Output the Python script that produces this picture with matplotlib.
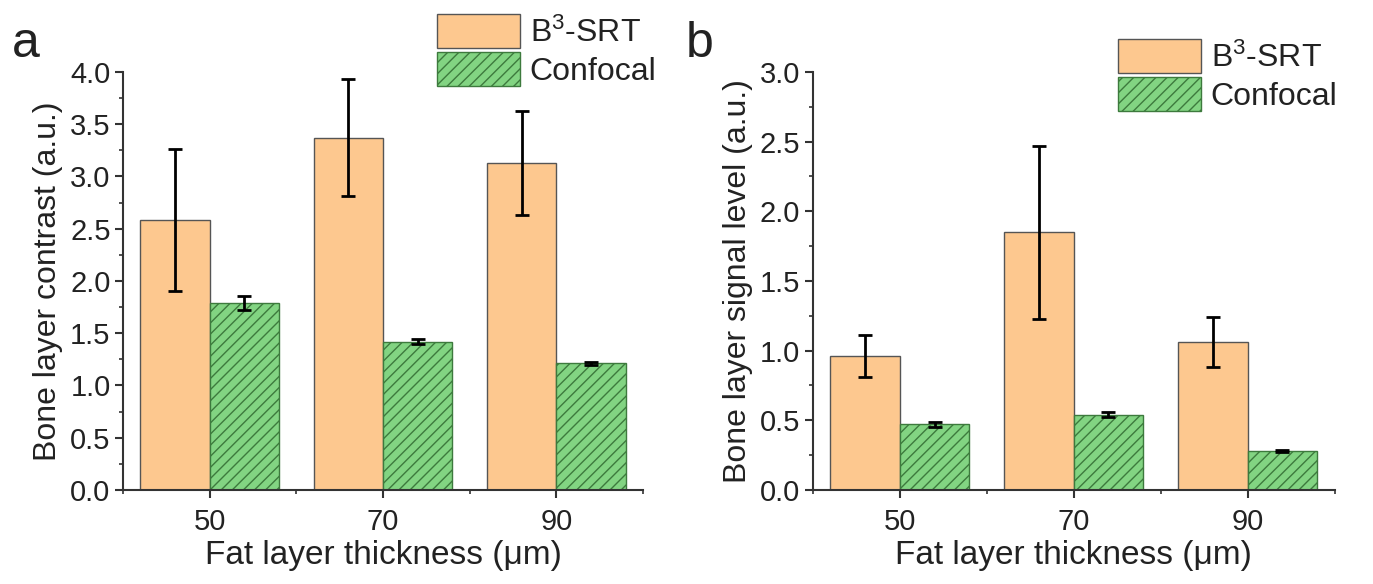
import matplotlib
matplotlib.use("Agg")
import matplotlib.pyplot as plt
import numpy as np
from matplotlib.ticker import MultipleLocator

plt.rcParams['font.family'] = ['Liberation Sans', 'DejaVu Sans']
plt.rcParams['mathtext.fontset'] = 'custom'
plt.rcParams['mathtext.rm'] = 'Liberation Sans'
plt.rcParams['mathtext.default'] = 'regular'
plt.rcParams['hatch.linewidth'] = 1.0

thickness = ["50", "70", "90"]

# panel a: bone layer contrast
contrast_srt = [2.58, 3.37, 3.13]
contrast_srt_err = [0.68, 0.56, 0.50]
contrast_conf = [1.79, 1.42, 1.21]
contrast_conf_err = [0.07, 0.025, 0.015]

# panel b: bone layer signal level
signal_srt = [0.96, 1.85, 1.06]
signal_srt_err = [0.15, 0.62, 0.18]
signal_conf = [0.47, 0.54, 0.28]
signal_conf_err = [0.015, 0.02, 0.01]

orange = "#fdc88f"
green = "#82d482"
spine = "#333333"
txt = "#222222"


def draw(ax, srt, srt_err, conf, conf_err, ylim, ystep, ylabel):
    x = np.arange(len(thickness))
    w = 0.4
    ax.bar(x - w / 2, srt, w, color=orange, edgecolor="#555555", linewidth=1.0,
           label="B$^{3}$-SRT")
    ax.bar(x + w / 2, conf, w, color=green, edgecolor="#3d7a3d", linewidth=1.0,
           hatch="///", label="Confocal")
    ax.errorbar(x - w / 2, srt, yerr=srt_err, fmt="none", ecolor="black",
                elinewidth=2, capsize=5, capthick=2)
    ax.errorbar(x + w / 2, conf, yerr=conf_err, fmt="none", ecolor="black",
                elinewidth=2, capsize=5, capthick=2)
    ax.set_xlim(-0.5, 2.5)
    ax.set_ylim(*ylim)
    ax.set_xticks(x, thickness)
    ax.xaxis.set_minor_locator(MultipleLocator(0.5))
    ax.yaxis.set_major_locator(MultipleLocator(ystep))
    ax.yaxis.set_minor_locator(MultipleLocator(ystep / 2))
    ax.yaxis.set_major_formatter(lambda v, p: f"{v:.1f}")
    for s in ("top", "right"):
        ax.spines[s].set_visible(False)
    for s in ("left", "bottom"):
        ax.spines[s].set_linewidth(1.5)
        ax.spines[s].set_color(spine)
    ax.tick_params(which="major", length=6, width=1.5, color=spine,
                   labelsize=21, labelcolor=txt, pad=3)
    ax.tick_params(axis="x", which="major", pad=7)
    ax.tick_params(which="minor", length=3, width=1.2, color=spine)
    ax.set_xlabel("Fat layer thickness (μm)", fontsize=24, color=txt, labelpad=3)
    ax.set_ylabel(ylabel, fontsize=23, color=txt, labelpad=5)


fig = plt.figure(figsize=(13.73, 5.84), dpi=100)
ax_a = fig.add_axes([0.0896, 0.161, 0.3787, 0.716])
ax_b = fig.add_axes([0.592, 0.161, 0.380, 0.716])

draw(ax_a, contrast_srt, contrast_srt_err, contrast_conf, contrast_conf_err,
     (0, 4.0), 0.5, "Bone layer contrast (a.u.)")
draw(ax_b, signal_srt, signal_srt_err, signal_conf, signal_conf_err,
     (0, 3.0), 0.5, "Bone layer signal level (a.u.)")

for ax, anchor in ((ax_a, (437 / 1373, 1 - 14 / 584)), (ax_b, (1118 / 1373, 1 - 39 / 584))):
    ax.legend(loc="upper left", bbox_to_anchor=anchor, bbox_transform=fig.transFigure,
              frameon=False, fontsize=23, borderpad=0, borderaxespad=0,
              handlelength=2.6, handleheight=1.25, labelspacing=0.12,
              handletextpad=0.3, labelcolor=txt)

fig.text(12 / 1373, 1 - 57 / 584, "a", fontsize=36, color=txt)
fig.text(686 / 1373, 1 - 57 / 584, "b", fontsize=36, color=txt)

fig.savefig("out.png", dpi=100)
